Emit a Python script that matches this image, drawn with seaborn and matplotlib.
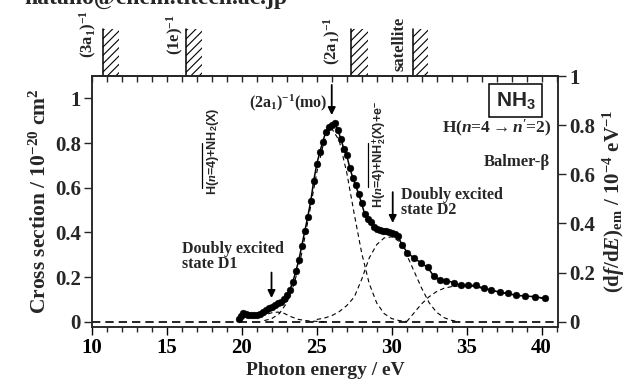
import matplotlib
matplotlib.use("Agg")
import matplotlib.pyplot as plt
import matplotlib.transforms as mtransforms
from matplotlib.patches import Rectangle
from matplotlib.ticker import MultipleLocator
import numpy as np
import pandas as pd
import seaborn as sns

# ---------------- data ----------------
energy = [19.8, 19.95, 20.1, 20.25, 20.4, 20.6, 20.8, 21.0, 21.2, 21.4, 21.6, 21.8,
          22.0, 22.2, 22.4, 22.6, 22.8, 23.0, 23.2, 23.4, 23.6, 23.8, 24.0, 24.2,
          24.4, 24.6, 24.8, 25.0, 25.2, 25.4, 25.6, 25.8, 26.0, 26.2, 26.4, 26.6,
          26.8, 27.0, 27.2, 27.4, 27.6, 27.8, 28.0, 28.2, 28.4, 28.6, 28.8, 29.0,
          29.2, 29.4, 29.6, 29.8, 30.0, 30.2, 30.4, 30.7, 31.05, 31.5, 31.95, 32.4,
          32.8, 33.2, 33.65, 34.15, 34.6, 35.1, 35.6, 36.15, 36.65, 37.25, 37.75,
          38.3, 38.9, 39.55, 40.2]
cross_section = [0.01, 0.025, 0.038, 0.035, 0.03, 0.028, 0.03, 0.028, 0.035, 0.045,
                 0.052, 0.06, 0.068, 0.076, 0.083, 0.09, 0.1, 0.118, 0.142, 0.178,
                 0.225, 0.275, 0.34, 0.405, 0.47, 0.54, 0.632, 0.705, 0.76, 0.805,
                 0.85, 0.872, 0.882, 0.888, 0.86, 0.82, 0.775, 0.745, 0.69, 0.645,
                 0.61, 0.57, 0.53, 0.48, 0.46, 0.445, 0.425, 0.415, 0.41, 0.408,
                 0.405, 0.4, 0.398, 0.392, 0.385, 0.343, 0.309, 0.284, 0.264, 0.243,
                 0.205, 0.187, 0.184, 0.175, 0.163, 0.163, 0.163, 0.149, 0.142, 0.131,
                 0.127, 0.118, 0.115, 0.112, 0.105]

# fitted components
d1_energy = [19.8, 20.2, 20.8, 21.5, 22.0, 22.4, 22.8, 23.3, 23.8, 24.5, 25.5]
d1_value = [0.0, 0.02, 0.022, 0.03, 0.04, 0.043, 0.038, 0.022, 0.01, 0.003, 0.0]

mo_energy = [21.5, 22.0, 22.5, 23.0, 23.5, 24.0, 24.5, 25.0, 25.5, 26.0, 26.5,
             27.0, 27.5, 28.0, 28.5, 29.0, 29.5, 30.0, 30.5, 31.0]
mo_value = [0.005, 0.014, 0.036, 0.084, 0.171, 0.307, 0.483, 0.668, 0.811, 0.865,
            0.811, 0.668, 0.483, 0.307, 0.171, 0.084, 0.036, 0.014, 0.005, 0.001]

d2_energy = [25.0, 25.5, 26.0, 26.5, 27.0, 27.5, 28.0, 28.5, 29.0, 29.5, 30.0,
             30.5, 31.0, 31.5, 32.0, 32.5, 33.0, 33.5, 34.0, 34.5]
d2_value = [0.01, 0.016, 0.027, 0.045, 0.072, 0.11, 0.19, 0.285, 0.345, 0.375,
            0.38, 0.36, 0.3, 0.225, 0.15, 0.085, 0.042, 0.018, 0.006, 0.0]

d3_energy = [31.0, 31.5, 32.0, 32.5, 33.0, 33.5, 34.0, 34.5, 35.0, 35.5, 36.0,
             36.5, 37.0, 37.5, 38.0, 38.5, 39.0, 39.5, 40.0, 40.2]
d3_value = [0.0, 0.04, 0.08, 0.112, 0.135, 0.15, 0.157, 0.16, 0.16, 0.158, 0.15,
            0.143, 0.135, 0.128, 0.122, 0.117, 0.113, 0.109, 0.105, 0.103]

ion_bands = [(10.75, 11.8), (16.3, 17.35), (27.3, 28.4), (31.4, 32.4)]
ion_labels = [r"(3a$_{\mathbf{1}}$)$^{\mathbf{-1}}$", r"(1e)$^{\mathbf{-1}}$",
              r"(2a$_{\mathbf{1}}$)$^{\mathbf{-1}}$", "satellite"]
x_ticks = [10, 15, 20, 25, 30, 35, 40]
y_ticks = [0, 0.2, 0.4, 0.6, 0.8, 1.0]
y_ticklabels = ["0", "0.2", "0.4", "0.6", "0.8", "1"]

# ---------------- style ----------------
sns.set_theme(style="ticks")
plt.rcParams["font.family"] = ["Liberation Serif", "DejaVu Serif", "DejaVu Sans"]
plt.rcParams["font.weight"] = "bold"
plt.rcParams["mathtext.fontset"] = "custom"
plt.rcParams["mathtext.rm"] = "Liberation Serif:bold"
plt.rcParams["mathtext.it"] = "Liberation Serif:italic:bold"
plt.rcParams["mathtext.bf"] = "Liberation Serif:bold"
plt.rcParams["mathtext.sf"] = "Liberation Sans:bold"
plt.rcParams["hatch.linewidth"] = 0.8
plt.rcParams["axes.linewidth"] = 1.1

W, H = 634, 385
fig = plt.figure(figsize=(W / 100, H / 100), dpi=100)
L, R, T, B = 92, 558, 76, 326.7
ax = fig.add_axes([L / W, 1 - B / H, (R - L) / W, (B - T) / H])

df = pd.DataFrame({"E": energy, "sigma": cross_section})
for ex, vy in [(d1_energy, d1_value), (mo_energy, mo_value),
               (d2_energy, d2_value), (d3_energy, d3_value)]:
    sns.lineplot(x=ex, y=vy, ax=ax, color="black", lw=0.8, sort=False)
for line in ax.get_lines():
    line.set_dashes((4, 3))
ax.axhline(0, color="black", lw=1.2, dashes=(5, 3))
sns.lineplot(data=df, x="E", y="sigma", ax=ax, color="black", lw=1.1, sort=False)
sns.scatterplot(data=df, x="E", y="sigma", ax=ax, color="black", s=24,
                edgecolor="black", linewidth=0.3, zorder=5)

TICK_FS = 15
ax.set_xlim(10, 41.1)
ax.set_ylim(-0.0224, 1.1)
ax.set_xticks(x_ticks)
ax.set_xticklabels([str(t) for t in x_ticks])
ax.xaxis.set_minor_locator(MultipleLocator(1))
ax.set_yticks(y_ticks)
ax.set_yticklabels(y_ticklabels)
ax.tick_params(axis="x", which="major", direction="out", length=6, width=1,
               labelsize=TICK_FS, pad=2, colors="black")
ax.tick_params(axis="x", which="minor", direction="out", length=3.5, width=1)
ax.tick_params(axis="y", direction="out", length=6, width=1, labelsize=TICK_FS, pad=2)
for lab in ax.get_xticklabels() + ax.get_yticklabels():
    lab.set_fontweight("bold")
ax.set_xlabel("Photon energy / eV", fontsize=14, fontweight="bold", labelpad=3)
ax.set_ylabel(r"Cross section / 10$^{\mathbf{-20}}$ cm$^{\mathbf{2}}$",
              fontsize=15.5, fontweight="bold", labelpad=3)

# top ticks (inward)
sec = ax.secondary_xaxis("top")
sec.set_xticks(list(range(10, 42)))
sec.set_xticklabels([])
sec.tick_params(direction="in", length=4.5, width=1)

# right axis
ax2 = ax.twinx()
ax2.set_ylim(-0.0204, 1.0)
ax2.set_yticks(y_ticks)
ax2.set_yticklabels(y_ticklabels)
ax2.tick_params(axis="y", direction="out", length=6, width=1, labelsize=TICK_FS, pad=2)
for lab in ax2.get_yticklabels():
    lab.set_fontweight("bold")
ax2.set_ylabel(r"(d$\mathit{f}$/d$\mathit{E}$)$_{\mathbf{em}}$ / 10$^{\mathbf{-4}}$ eV$^{\mathbf{-1}}$",
               fontsize=15, fontweight="bold", labelpad=4)
for a in (ax, ax2):
    for s in a.spines.values():
        s.set_linewidth(1.1)
        s.set_visible(True)

# hatched ionization bands above the frame
trans = mtransforms.blended_transform_factory(ax.transData, ax.transAxes)
band_top = 1 + (T - 29) / (B - T)
for (x0, x1) in ion_bands:
    ax.add_patch(Rectangle((x0, 1.0), x1 - x0, band_top - 1.0, transform=trans,
                           clip_on=False, fill=False, hatch="////", lw=0,
                           edgecolor="black"))
    ax.plot([x0, x0], [1.0, band_top], transform=trans, clip_on=False,
            color="black", lw=1.1)

label_pos = [(9.75, 58), (15.55, 55), (26.05, 65), (30.5, 71)]
for (xe, ypx), txt in zip(label_pos, ion_labels):
    ax.text(xe, 1 + (T - ypx) / (B - T), txt, transform=trans, rotation=90,
            ha="center", va="bottom", fontsize=12, fontweight="bold")

# annotations
arrow_kw = dict(arrowstyle="-|>", color="black", lw=1.3, mutation_scale=11,
                shrinkA=0, shrinkB=0)
ax.annotate("", xy=(26.0, 0.925), xytext=(26.0, 1.06), arrowprops=arrow_kw)
ax.text(25.75, 0.98, r"(2a$_{\mathbf{1}}$)$^{\mathbf{-1}}$(mo)", ha="right",
        va="center", fontsize=11.5, fontweight="bold")
ax.annotate("", xy=(21.98, 0.106), xytext=(21.98, 0.22), arrowprops=arrow_kw)
ax.text(16.0, 0.292, "Doubly excited\nstate D1", ha="left", va="center",
        fontsize=11.5, fontweight="bold", linespacing=0.95)
ax.annotate("", xy=(30.07, 0.442), xytext=(30.07, 0.58), arrowprops=arrow_kw)
ax.text(30.65, 0.534, "Doubly excited\nstate D2", ha="left", va="center",
        fontsize=11.5, fontweight="bold", linespacing=0.95)

ax.text(38.27, 0.99, r"NH$_\mathsf{3}$", ha="center", va="center", fontsize=15,
        fontweight="bold", family=["Liberation Sans"],
        bbox=dict(boxstyle="square,pad=0.3", fc="white", ec="black", lw=1.1))
ax.text(40.67, 0.867, r"H($\mathit{n}$=4${\rightarrow}$$\mathit{n}$$'$=2)",
        ha="right", va="center", fontsize=12.5, fontweight="bold")
ax.text(40.55, 0.715, "Balmer-β", ha="right", va="center", fontsize=12,
        fontweight="bold")

ax.text(18.07, 0.567, r"H($\mathit{n}$=4)+NH$_\mathsf{2}$(X)", rotation=90,
        ha="center", va="bottom", fontsize=9, fontweight="bold",
        family=["Liberation Sans"])
ax.plot([17.33, 17.33], [0.598, 0.80], color="black", lw=0.9)
ax.text(29.2, 0.508, r"H($\mathit{n}$=4)+NH$_\mathsf{2}^\mathsf{+}$(X)+e$^\mathsf{-}$",
        rotation=90, ha="center", va="bottom", fontsize=9, fontweight="bold",
        family=["Liberation Sans"])
ax.plot([28.4, 28.4], [0.603, 0.80], color="black", lw=0.9)

fig.text(24 / W, 1 - 4 / H, "hatano@chem.titech.ac.jp", fontsize=17,
         ha="left", va="baseline")

fig.savefig("out.png", dpi=100)
